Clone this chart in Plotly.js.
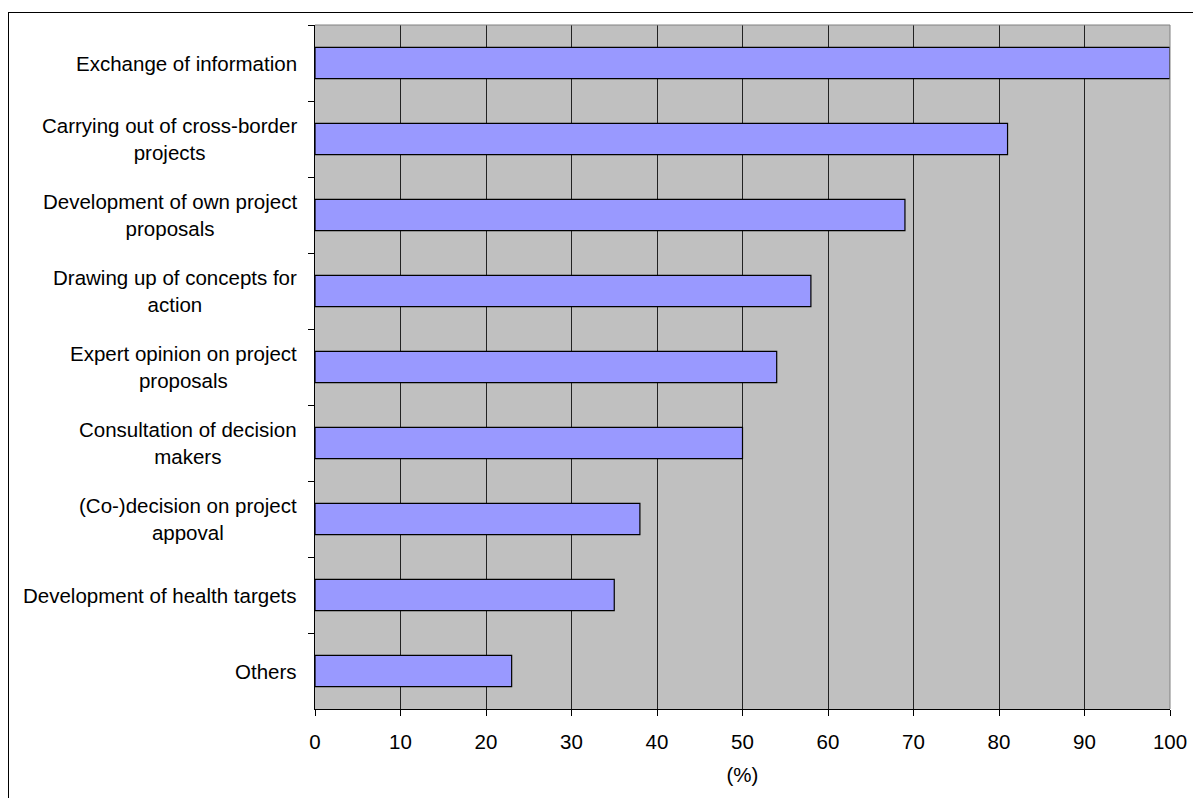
<!DOCTYPE html>
<html>
<head>
<meta charset="utf-8">
<script src="https://cdn.plot.ly/plotly-3.0.1.min.js"></script>
<style>
  html, body { margin: 0; padding: 0; background: #fff; }
  #wrap { position: relative; width: 1193px; height: 798px; overflow: hidden; }
  #chart { position: absolute; left: 0; top: 0; width: 1193px; height: 798px; }
  #frame { position: absolute; left: 8px; top: 12px; width: 1400px; height: 1000px;
           border: 1px solid #000; pointer-events: none; }
</style>
</head>
<body>
<div id="wrap">
  <div id="chart"></div>
  <div id="frame"></div>
</div>
<script>
// Categories (top to bottom) and values (%)
const categories = [
  "Exchange of information",
  "Carrying out of cross-border<br>projects",
  "Development of own project<br>proposals",
  "Drawing up of concepts for<br>action",
  "Expert opinion on project<br>proposals",
  "Consultation of decision<br>makers",
  "(Co-)decision on project<br>appoval",
  "Development of health targets",
  "Others"
];
const values = [100, 81, 69, 58, 54, 50, 38, 35, 23];
const xTickVals = [0, 10, 20, 30, 40, 50, 60, 70, 80, 90, 100];

const FONT = "Liberation Sans, Arial, sans-serif";

const trace = {
  type: "bar",
  orientation: "h",
  y: categories,
  x: values,
  marker: { color: "#9999FF", line: { color: "#000000", width: 1.2 } },
  hoverinfo: "x+y"
};

const annotations = categories.map(c => ({
  xref: "paper", yref: "y",
  x: 0, y: c,
  xanchor: "right", yanchor: "middle",
  xshift: -16,
  text: c,
  showarrow: false,
  align: "center",
  font: { family: FONT, size: 20.5, color: "#000" }
}));

const layout = {
  width: 1193, height: 798,
  margin: { l: 315, r: 23, t: 25, b: 89, pad: 0 },
  paper_bgcolor: "rgba(0,0,0,0)",
  plot_bgcolor: "#C0C0C0",
  bargap: 0.59,
  showlegend: false,
  font: { family: FONT, size: 20, color: "#000" },
  xaxis: {
    range: [0, 100],
    tickvals: xTickVals,
    ticktext: xTickVals.map(String),
    ticks: "outside", ticklen: 6, tickcolor: "#000", tickwidth: 1,
    ticklabelstandoff: 8,
    showgrid: true, gridcolor: "#222", gridwidth: 1,
    showline: true, linecolor: "#000", linewidth: 1,
    zeroline: false,
    tickfont: { family: FONT, size: 20.5, color: "#000" },
    title: { text: "(%)", font: { family: FONT, size: 20.5, color: "#000" }, standoff: 16 },
    automargin: false,
    fixedrange: true
  },
  yaxis: {
    type: "category",
    categoryorder: "array",
    categoryarray: categories,
    autorange: "reversed",
    showticklabels: false,
    ticks: "outside", ticklen: 6, tickcolor: "#000", tickwidth: 1,
    tickson: "boundaries",
    showgrid: false,
    showline: true, linecolor: "#000", linewidth: 1,
    zeroline: false,
    fixedrange: true
  },
  shapes: [
    { type: "line", xref: "paper", yref: "paper", x0: 0, x1: 1, y0: 1, y1: 1,
      line: { color: "#808080", width: 1 }, layer: "above" },
    { type: "line", xref: "paper", yref: "paper", x0: 1, x1: 1, y0: 0, y1: 1,
      line: { color: "#808080", width: 1 }, layer: "above" }
  ],
  annotations: annotations
};

Plotly.newPlot("chart", [trace], layout, { displayModeBar: false, staticPlot: true });
</script>
</body>
</html>
